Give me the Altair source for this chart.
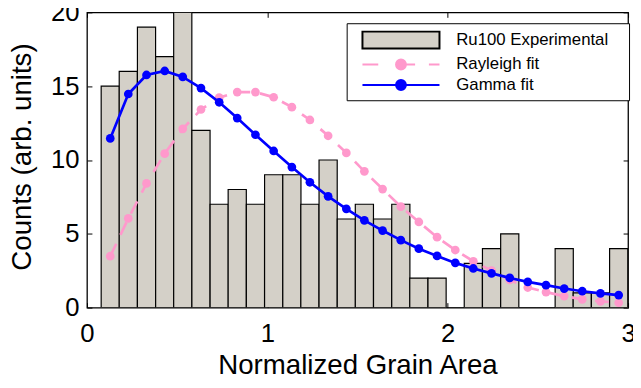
import altair as alt
import pandas as pd

# ---------------- data ----------------
bin_centers = [0.129, 0.229, 0.330, 0.431, 0.531, 0.632, 0.733, 0.833, 0.934, 1.035,
               1.136, 1.236, 1.337, 1.438, 1.538, 1.639, 1.740, 1.840, 1.941, 2.042,
               2.142, 2.243, 2.344, 2.444, 2.545, 2.646, 2.746, 2.847, 2.948]
bin_width = 0.1007
counts = [15, 16, 19, 17, 20, 12, 7, 8, 7, 9,
          9, 7, 10, 6, 7, 6, 7, 2, 2, 0,
          3, 4, 5, 0, 0, 4, 1, 1, 4]
rayleigh = [3.48, 6.04, 8.41, 10.43, 12.11, 13.42, 14.22, 14.60, 14.60, 14.25,
            13.58, 12.71, 11.64, 10.48, 9.23, 8.03, 6.84, 5.80, 4.77, 3.90,
            3.14, 2.50, 1.87, 1.36, 1.05, 0.78, 0.56, 0.42, 0.33]
gamma = [11.46, 14.47, 15.76, 16.03, 15.63, 14.87, 13.91, 12.84, 11.71, 10.61,
         9.52, 8.49, 7.54, 6.69, 5.91, 5.22, 4.57, 3.99, 3.50, 3.03,
         2.65, 2.32, 2.01, 1.74, 1.52, 1.29, 1.11, 0.96, 0.85]

series_names = ["Ru100 Experimental", "Rayleigh fit", "Gamma fit"]
series_colors = ["#d4d0c8", "#ff99cc", "#0000ff"]
series_strokes = ["black", "#ff99cc", "#0000ff"]
x_ticks = [0, 1, 2, 3]
y_ticks = [0, 5, 10, 15, 20]

FONT = "Liberation Sans"
BAR_FILL, PINK, BLUE = series_colors

bar_df = pd.DataFrame({
    "x0": [c - bin_width / 2 for c in bin_centers],
    "x1": [c + bin_width / 2 for c in bin_centers],
    "count": counts,
})
ray_df = pd.DataFrame({"x": bin_centers, "y": rayleigh})
gam_df = pd.DataFrame({"x": bin_centers, "y": gamma})
legend_df = pd.DataFrame({"series": series_names})

xscale = alt.Scale(domain=[0, 3], nice=False, zero=False)
yscale = alt.Scale(domain=[0, 20], nice=False)

x_label_axis = alt.Axis(orient="bottom", values=x_ticks, format="d", ticks=False, domain=False,
                        grid=False, labelFontSize=26, labelPadding=13, labelFont=FONT,
                        labelColor="black", labelFlush=False, labelOverlap=False,
                        title="Normalized Grain Area", titleFontSize=28, titleFont=FONT,
                        titleFontWeight="normal", titleColor="black", titleX=274, titleY=67,
                        titleBaseline="alphabetic", titleAlign="center")
y_label_axis = alt.Axis(orient="left", values=y_ticks, format="d", ticks=False, domain=False,
                        grid=False, labelFontSize=26, labelPadding=8, labelFont=FONT,
                        labelColor="black", labelFlush=False, labelOverlap=False,
                        title="Counts (arb. units)", titleFontSize=28, titleFont=FONT,
                        titleFontWeight="normal", titleColor="black", titleX=-57, titleY=146,
                        titleAngle=270, titleBaseline="alphabetic", titleAlign="center")


def tick_axis(orient, vals):
    return alt.Axis(orient=orient, values=vals, labels=False, domain=False, grid=False,
                    ticks=True, tickSize=5, offset=-5, tickColor="black", tickWidth=1,
                    title=None)


# legend symbols (unit = 10 px); the bare trailing move-to widens the legend box to the right
TRAIL = "M24.9,0"
RECT = "M-1.1,-0.85L6.7,-0.85L6.7,0.85L-1.1,0.85Z" + TRAIL
CIRC = "M2.3,0A0.5,0.5,0,1,0,3.3,0A0.5,0.5,0,1,0,2.3,0Z"
PINK_PATH = "M-1.1,0L0.5,0M2.3,0L4.23,0M5.63,0L6.7,0" + CIRC + TRAIL
BLUE_PATH = "M-1.1,0L6.7,0" + CIRC + TRAIL
legend_shapes = [RECT, PINK_PATH, BLUE_PATH]

legend = alt.Legend(
    title=None, orient="none", legendX=263, legendY=11, padding=6,
    fillColor="white", strokeColor="black",
    labelFont=FONT, labelFontSize=17, labelColor="black", labelOffset=73, labelLimit=400,
    symbolSize=400, symbolStrokeWidth=2, symbolOpacity=1, symbolOffset=10, rowPadding=0.8,
)

bars = alt.Chart(bar_df).mark_bar(fill=BAR_FILL, stroke="black", strokeWidth=1.2, clip=True,
                                  opacity=1).encode(
    x=alt.X("x0:Q", scale=xscale, axis=x_label_axis),
    x2="x1:Q",
    y=alt.Y("count:Q", scale=yscale, axis=y_label_axis),
    y2=alt.datum(0),
)

ray_line = alt.Chart(ray_df).mark_line(color=PINK, strokeWidth=2.7, strokeDash=[14, 10], clip=True).encode(
    x=alt.X("x:Q", scale=xscale, axis=tick_axis("bottom", x_ticks)),
    y=alt.Y("y:Q", scale=yscale, axis=tick_axis("left", y_ticks)),
)
ray_pts = alt.Chart(ray_df).mark_circle(color=PINK, size=78, opacity=1, clip=True).encode(
    x=alt.X("x:Q", scale=xscale, axis=None),
    y=alt.Y("y:Q", scale=yscale, axis=None),
)
gam_line = alt.Chart(gam_df).mark_line(color=BLUE, strokeWidth=2.7, clip=True).encode(
    x=alt.X("x:Q", scale=xscale, axis=tick_axis("top", x_ticks)),
    y=alt.Y("y:Q", scale=yscale, axis=tick_axis("right", y_ticks)),
)
gam_pts = alt.Chart(gam_df).mark_circle(color=BLUE, size=78, opacity=1, clip=True).encode(
    x=alt.X("x:Q", scale=xscale, axis=None),
    y=alt.Y("y:Q", scale=yscale, axis=None),
)

# legend-only layer: no rows survive the filter, so it only contributes the legend
legend_layer = alt.Chart(legend_df).transform_filter("false").mark_point(
    filled=True, size=400, opacity=1, strokeWidth=2
).encode(
    x=alt.value(0), y=alt.value(0),
    shape=alt.Shape("series:N", scale=alt.Scale(domain=series_names, range=legend_shapes), legend=legend),
    fill=alt.Fill("series:N", scale=alt.Scale(domain=series_names, range=series_colors), legend=legend),
    stroke=alt.Stroke("series:N", scale=alt.Scale(domain=series_names, range=series_strokes), legend=legend),
)

chart = alt.layer(bars, ray_line, ray_pts, gam_line, gam_pts, legend_layer).resolve_axis(
    x="independent", y="independent"
).properties(
    width=548, height=299,
    autosize=alt.AutoSizeParams(type="none"),
    padding={"left": 80, "top": 2, "right": 5, "bottom": 79},
    background="white",
).configure_view(stroke="black", strokeWidth=1.3)

chart.save("out.html", embed_options={"renderer": "svg", "actions": False})
